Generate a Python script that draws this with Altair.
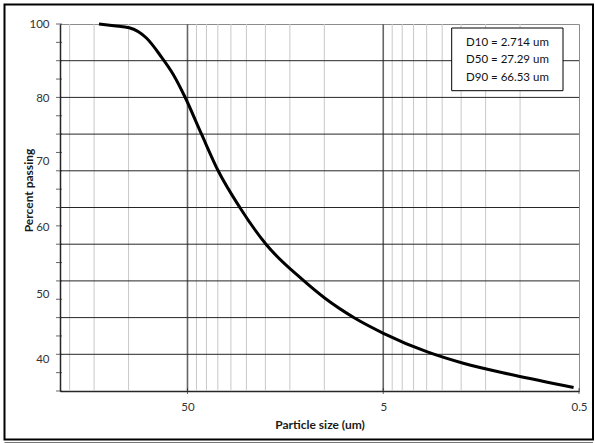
import altair as alt
import pandas as pd

# ---- data ----
particle_size_um = [141.6, 118.7, 99.2, 80.8, 69.1, 59.1, 51.5, 42.5, 34.8, 26.96,
                    19.86, 13.05, 9.92, 6.97, 4.99, 3.0, 1.95, 1.083, 0.533]
percent_passing = [100.0, 99.68, 99.34, 97.47, 94.51, 91.06, 87.07, 80.57, 73.96, 67.46,
                   60.98, 54.84, 51.42, 47.88, 45.22, 41.96, 39.91, 37.83, 35.62]

x_tick_values = [50, 5, 0.5]
x_tick_labels = ["50", "5", "0.5"]
x_major_grid = [50, 5]
x_minor_grid = [200, 150, 100, 45, 40, 35, 30, 25, 20, 15, 10,
                4.5, 4, 3.5, 3, 2.5, 2, 1.5, 1]

y_grid = [41.5, 48, 54.5, 61, 67.5, 74, 80.5, 87, 93.5]
y_major_ticks = [35, 41.5, 48, 54.5, 61, 67.5, 74, 80.5, 87, 93.5, 100]
y_minor_ticks = [38.25, 44.75, 51.25, 57.75, 64.25, 70.75, 77.25, 83.75, 90.25, 96.75]
y_label_positions = [100, 86.84, 75.61, 63.99, 52.13, 40.61]
y_label_texts = ["100", "80", "70", "60", "50", "40"]

annotation_lines = ["D10 = 2.714 um", "D50 = 27.29 um", "D90 = 66.53 um"]

x_domain = [0.5, 224]
y_domain = [35, 100]

W, H = 519, 367
FONT = "Lato"


def label_expr(values, texts):
    expr = "''"
    for v, t in reversed(list(zip(values, texts))):
        expr = f"datum.value == {v} ? '{t}' : ({expr})"
    return expr


xscale = alt.Scale(type="log", domain=x_domain, reverse=True, nice=False)
yscale = alt.Scale(domain=y_domain, nice=False, zero=False)

curve_df = pd.DataFrame({"size": particle_size_um, "pct": percent_passing})

x_axis = alt.Axis(
    values=x_tick_values, labelExpr=label_expr(x_tick_values, x_tick_labels),
    ticks=False, tickSize=0, grid=False, domain=True, domainColor="#262626", domainWidth=1.5,
    labelFont=FONT, labelFontSize=11.5, labelColor="#333333", labelPadding=10,
    labelFlush=False, labelOverlap=False,
    title="Particle size (um)", titleFont=FONT, titleFontSize=12, titleFontWeight="bold",
    titleColor="#1a1a1a", titleBaseline="middle", titleY=33,
)
y_axis = alt.Axis(
    values=y_label_positions, labelExpr=label_expr(y_label_positions, y_label_texts),
    ticks=False, tickSize=0, grid=False, domain=True, domainColor="#262626", domainWidth=1.5,
    labelFont=FONT, labelFontSize=11.5, labelColor="#333333", labelPadding=11,
    labelBaseline="middle", labelOverlap=False,
    title="Percent passing", titleFont=FONT, titleFontSize=12, titleFontWeight="bold",
    titleColor="#1a1a1a", titleBaseline="middle", titleX=-32, titleY=166,
)


def X(field):
    return alt.X(field, scale=xscale, axis=x_axis)


def Y(field):
    return alt.Y(field, scale=yscale, axis=y_axis)


minor_v = alt.Chart(pd.DataFrame({"v": x_minor_grid})).mark_rule(
    color="#c8c8c8", strokeWidth=1
).encode(x=X("v:Q"))

major_v = alt.Chart(pd.DataFrame({"v": x_major_grid})).mark_rule(
    color="#666666", strokeWidth=1.6
).encode(x=X("v:Q"))

h_grid = alt.Chart(pd.DataFrame({"v": y_grid})).mark_rule(
    color="#262626", strokeWidth=1
).encode(y=Y("v:Q"))

y_ticks_major = alt.Chart(pd.DataFrame({"v": y_major_ticks})).mark_tick(
    orient="horizontal", size=6, thickness=1, color="#262626"
).encode(y=Y("v:Q"), x=alt.value(-1))

y_ticks_minor = alt.Chart(pd.DataFrame({"v": y_minor_ticks})).mark_tick(
    orient="horizontal", size=6, thickness=1, color="#262626"
).encode(y=Y("v:Q"), x=alt.value(-1))

x_ticks = alt.Chart(pd.DataFrame({"v": x_tick_values})).mark_tick(
    orient="vertical", size=6, thickness=1, color="#262626"
).encode(x=X("v:Q"), y=alt.value(H))

curve = alt.Chart(curve_df).mark_line(
    color="black", strokeWidth=3, interpolate="monotone"
).encode(
    x=X("size:Q"),
    y=Y("pct:Q"),
    order=alt.Order("size:Q", sort="descending"),
)

one = pd.DataFrame({"a": [0]})

box = alt.Chart(one).mark_rect(fill="white", stroke="black", strokeWidth=1).encode(
    x=alt.value(391.7), x2=alt.value(503), y=alt.value(4), y2=alt.value(66.7)
)

texts = []
for i, line in enumerate(annotation_lines):
    texts.append(
        alt.Chart(pd.DataFrame({"t": [line]})).mark_text(
            align="left", baseline="middle", font=FONT, fontSize=11.5, color="#111111"
        ).encode(text="t:N", x=alt.value(406), y=alt.value(19 + 17.35 * i))
    )

frame = alt.Chart(one).mark_rect(fill="transparent", stroke="black", strokeWidth=2).encode(
    x=alt.value(-55.5), x2=alt.value(533), y=alt.value(-19.5), y2=alt.value(415.5)
)
frame_bottom = alt.Chart(one).mark_rule(color="#777777", strokeWidth=1).encode(
    x=alt.value(-55.5), x2=alt.value(533), y=alt.value(418.5)
)

chart = alt.layer(
    minor_v, major_v, h_grid, curve, y_ticks_major, y_ticks_minor, x_ticks,
    box, *texts, frame, frame_bottom
).properties(
    width=W, height=H,
    autosize=alt.AutoSizeParams(type="none"),
    padding={"left": 60, "top": 24, "right": 16, "bottom": 52},
    background="white",
).configure_view(stroke="#8c8c8c", strokeWidth=1)

chart.save("out.html", embed_options={"renderer": "svg", "actions": False})
